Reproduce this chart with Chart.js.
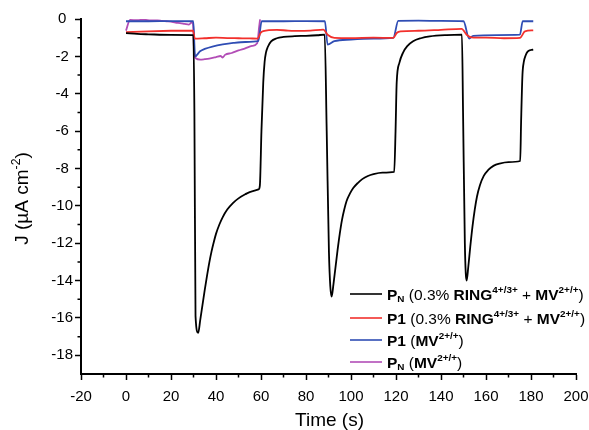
<!DOCTYPE html>
<html><head><meta charset="utf-8">
<script src="https://cdn.jsdelivr.net/npm/chart.js@4/dist/chart.umd.min.js"></script>
<style>html,body{margin:0;padding:0;background:#fff}#wrap{width:589px;height:430px}</style>
</head><body><div id="wrap"><canvas id="c" width="589" height="430"></canvas></div>
<script>
// ---- data ----
const blackTime = [0,5,10,20,29.9,
  30.4,30.9,32.1,33,34,35,36,37,38,39,40,41.5,43,45,47.5,50,53,56,58.9,
  59.5,60.2,61.0,61.6,62.2,63,64.5,67,70,75,80,85,88.3,
  89.2,90.2,90.8,91.4,92.2,93,94,95,96,97,98,99.5,101,103,105,107.5,110,114,119.2,
  119.8,120.3,121.5,123.2,125,127.6,131,135,142.5,149.3,
  149.8,150.6,151.0,151.4,152.1,153,154,155,156,157.3,159,161,163.3,166,170,175.2,
  175.6,176.2,176.8,177.6,178.5,180,181];
const blackJ = [-0.76,-0.8,-0.82,-0.85,-0.86,
  -5,-15.9,-16.8,-16.1,-15.3,-14.5,-13.75,-13.05,-12.45,-11.95,-11.5,-11.0,-10.6,-10.2,-9.85,-9.6,-9.38,-9.22,-9.12,
  -8.9,-6,-3.4,-2.3,-1.8,-1.5,-1.2,-1.03,-0.96,-0.92,-0.9,-0.87,-0.84,
  -6,-12.5,-14.3,-14.86,-14.2,-13.4,-12.4,-11.5,-10.75,-10.2,-9.75,-9.35,-9.05,-8.78,-8.57,-8.4,-8.3,-8.22,-8.18,
  -6,-3.42,-2.35,-1.78,-1.45,-1.19,-1.03,-0.93,-0.86,-0.84,
  -5,-12,-13.6,-14.0,-13.3,-12.2,-11.1,-10.2,-9.5,-8.9,-8.4,-8.08,-7.86,-7.74,-7.66,-7.6,
  -5.5,-3,-2.3,-1.95,-1.75,-1.66,-1.64];

const redTime = [0,10,20,29.8,30.6,35,40,45,50,55,58.5,59.8,61,67,72,77,82,87.7,
  89.6,92.6,100,110,118.8,120.3,122,130,140,149.2,151.4,153.5,160,168,175.1,177.3,181];
const redJ = [-0.7,-0.66,-0.63,-0.62,-1.05,-1.03,-1.0,-1.02,-1.03,-1.04,-1.05,-0.75,-0.65,-0.58,-0.62,-0.64,-0.62,-0.57,
  -0.84,-1.01,-1.02,-1.0,-1.01,-0.75,-0.66,-0.63,-0.58,-0.53,-0.84,-0.98,-1.0,-1.03,-1.01,-0.66,-0.61];

const blueTime = [0,10,20,29.9,30.7,32.9,35,38.8,43,47.7,53,58.8,60.3,70,80,88.4,
  89.6,92.6,100,110,118.8,121,130,140,150,152.5,154.3,165,175.1,176.3,181];
const blueJ = [-0.12,-0.12,-0.11,-0.12,-2.0,-1.73,-1.6,-1.46,-1.36,-1.28,-1.23,-1.19,-0.12,-0.12,-0.11,-0.12,
  -1.37,-1.19,-1.1,-1.05,-1.01,-0.1,-0.09,-0.1,-0.12,-1.05,-0.9,-0.86,-0.84,-0.12,-0.12];

const purpleTime = [0,1.8,5,8,11,14,16,18,20,22,24,26,28,29.2,29.8,30.3,31,33,35,37,40,42,43,44,47,50,53,56,58.3,59.2,59.6];
const purpleJ = [-0.62,-0.05,-0.06,-0.04,-0.08,-0.07,-0.1,-0.12,-0.14,-0.2,-0.22,-0.26,-0.3,-0.18,-0.3,-1.8,-2.1,-2.17,-2.15,-2.12,-2.04,-1.98,-2.06,-1.92,-1.82,-1.68,-1.57,-1.44,-1.3,-0.4,-0.02];

const xTickValues = [-20,0,20,40,60,80,100,120,140,160,180,200];
const xMinorValues = [-10,10,30,50,70,90,110,130,150,170,190];
const yTickValues = [0,-2,-4,-6,-8,-10,-12,-14,-16,-18];
const yMinorValues = [-1,-3,-5,-7,-9,-11,-13,-15,-17];

const xTitle = [{t:'Time (s)'}];
const yTitle = [{t:'J (\u00B5A cm'},{t:'-2',sup:1},{t:')'}];

const legendLabels = [
  [{t:'P',b:1},{t:'N',b:1,sub:1},{t:' (0.3% '},{t:'RING',b:1},{t:'4+/3+',b:1,sup:1},{t:' + '},{t:'MV',b:1},{t:'2+/+',b:1,sup:1},{t:')'}],
  [{t:'P1',b:1},{t:' (0.3% '},{t:'RING',b:1},{t:'4+/3+',b:1,sup:1},{t:' + '},{t:'MV',b:1},{t:'2+/+',b:1,sup:1},{t:')'}],
  [{t:'P1',b:1},{t:' ('},{t:'MV',b:1},{t:'2+/+',b:1,sup:1},{t:')'}],
  [{t:'P',b:1},{t:'N',b:1,sub:1},{t:' ('},{t:'MV',b:1},{t:'2+/+',b:1,sup:1},{t:')'}]
];
const seriesColors = ['#000000','#f2302c','#2f4db4','#b24db6'];

// ---- drawing ----
const FONT = "'Liberation Sans', Arial, Helvetica, sans-serif";
function pts(t, j) { return t.map((x, i) => ({x: x, y: j[i]})); }

function richDraw(ctx, segs, x, y, size, measureOnly) {
  let cx = x;
  for (const s of segs) {
    const sz = (s.sub || s.sup) ? size * 0.64 : size;
    ctx.font = (s.b ? 'bold ' : '') + sz + 'px ' + FONT;
    const dy = s.sup ? -size * 0.4 : (s.sub ? size * 0.14 : 0);
    if (!measureOnly) ctx.fillText(s.t, cx, y + dy);
    cx += ctx.measureText(s.t).width;
  }
  return cx - x;
}

const decor = {
  id: 'decor',
  afterDraw(chart) {
    const ctx = chart.ctx;
    const xs = chart.scales.x, ys = chart.scales.y;
    const area = chart.chartArea;
    ctx.save();
    ctx.strokeStyle = '#000';
    ctx.lineWidth = 1.5;
    ctx.beginPath();
    for (const v of xMinorValues) {
      const px = xs.getPixelForValue(v);
      ctx.moveTo(px, area.bottom); ctx.lineTo(px, area.bottom + 3.5);
    }
    for (const v of yMinorValues) {
      const py = ys.getPixelForValue(v);
      ctx.moveTo(area.left, py); ctx.lineTo(area.left - 3.5, py);
    }
    ctx.stroke();

    ctx.fillStyle = '#000';
    ctx.textBaseline = 'alphabetic';
    ctx.textAlign = 'left';
    // x title
    const xw = richDraw(ctx, xTitle, 0, 0, 19, true);
    richDraw(ctx, xTitle, (area.left + area.right) / 2 + 1 - xw / 2, 426, 19);
    // y title
    ctx.save();
    ctx.translate(28, (area.top + area.bottom) / 2 + 2);
    ctx.rotate(-Math.PI / 2);
    const yw = richDraw(ctx, yTitle, 0, 0, 19, true);
    richDraw(ctx, yTitle, -yw / 2, 0, 19);
    ctx.restore();

    // legend
    const rowsY = [294, 318, 340, 362];
    legendLabels.forEach((lab, i) => {
      const ly = rowsY[i];
      ctx.strokeStyle = seriesColors[i];
      ctx.lineWidth = 1.6;
      ctx.beginPath();
      ctx.moveTo(350, ly); ctx.lineTo(382, ly);
      ctx.stroke();
      ctx.fillStyle = '#000';
      richDraw(ctx, lab, 387, ly + 5.5, 15.5);
    });
    ctx.restore();
  }
};

const datasets = [
  {data: pts(blackTime, blackJ), borderColor: seriesColors[0]},
  {data: pts(redTime, redJ), borderColor: seriesColors[1]},
  {data: pts(blueTime, blueJ), borderColor: seriesColors[2]},
  {data: pts(purpleTime, purpleJ), borderColor: seriesColors[3]}
];

new Chart(document.getElementById('c').getContext('2d'), {
  type: 'line',
  data: {datasets: datasets},
  options: {
    responsive: false,
    animation: false,
    devicePixelRatio: 1,
    layout: {padding: {left: 0, top: 19, right: 13, bottom: 0}},
    plugins: {legend: {display: false}, tooltip: {enabled: false}},
    elements: {
      point: {radius: 0},
      line: {borderWidth: 1.8, cubicInterpolationMode: 'monotone', fill: false}
    },
    scales: {
      x: {
        type: 'linear', min: -20, max: 200,
        afterBuildTicks: s => { s.ticks = xTickValues.map(v => ({value: v})); },
        ticks: {font: {family: FONT, size: 15}, color: '#000', padding: 8, maxRotation: 0, autoSkip: false},
        grid: {drawOnChartArea: false, drawTicks: true, tickLength: 6, tickColor: '#000', tickWidth: 1.5},
        border: {display: true, color: '#000', width: 2},
        afterFit: s => { s.height = 56; s.paddingLeft = 0; s.paddingRight = 0; }
      },
      y: {
        type: 'linear', min: -19, max: 0,
        afterBuildTicks: s => { s.ticks = yTickValues.map(v => ({value: v})); },
        ticks: {font: {family: FONT, size: 15}, color: '#000', padding: 2, crossAlign: 'center', autoSkip: false},
        grid: {drawOnChartArea: false, drawTicks: true, tickLength: 6, tickColor: '#000', tickWidth: 1.5},
        border: {display: true, color: '#000', width: 2},
        afterFit: s => { s.width = 81; s.paddingTop = 0; s.paddingBottom = 0; }
      }
    }
  },
  plugins: [decor]
});
</script>
</body></html>
